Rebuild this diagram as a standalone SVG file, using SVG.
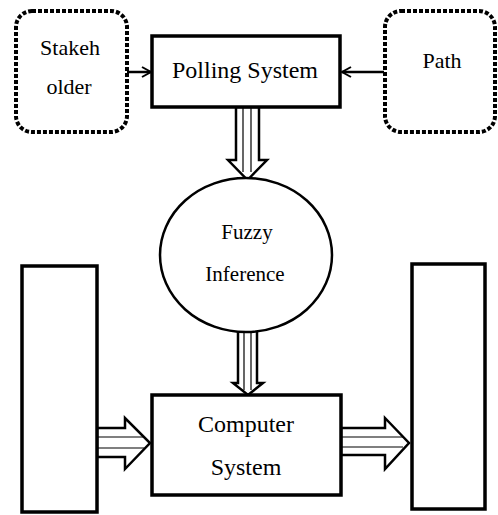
<svg xmlns="http://www.w3.org/2000/svg" width="498" height="515" viewBox="0 0 498 515">
<style>
.box{fill:#fff;stroke:#000;stroke-width:3.5}
.dot{fill:#fff;stroke:#000;stroke-width:4;stroke-dasharray:4 2}
.t{font-family:"Liberation Serif","Times New Roman",serif;fill:#000;text-anchor:middle}
.ba{fill:#fff;stroke:#000;stroke-width:2.5;stroke-linejoin:miter}
.in{stroke:#000;stroke-width:1.2;fill:none}
.ln{stroke:#000;stroke-width:2.5;fill:none}
</style>
<defs>
<marker id="open" markerWidth="12" markerHeight="12" refX="10" refY="6" orient="auto" markerUnits="userSpaceOnUse">
<path d="M1,1 L10,6 L1,11" fill="none" stroke="#000" stroke-width="2"/>
</marker>
</defs>
<g id="connectors">
<line class="ln" x1="127" y1="72" x2="151" y2="72" marker-end="url(#open)"/>
<line class="ln" x1="384" y1="72" x2="342" y2="72" marker-end="url(#open)"/>
<g id="arrow-poll-fuzzy">
<polygon class="ba" points="236,107 259,107 259,160 267,160 247.5,180 228,160 236,160"/>
<line class="in" x1="243" y1="107" x2="243" y2="172"/>
<line class="in" x1="251" y1="107" x2="251" y2="172"/>
</g>
<g id="arrow-fuzzy-comp">
<polygon class="ba" points="238,330 257,330 257,383 263,383 248,395 233,383 238,383"/>
<line class="in" x1="244" y1="330" x2="244" y2="390"/>
<line class="in" x1="251" y1="330" x2="251" y2="390"/>
</g>
<g id="arrow-left-comp">
<polygon class="ba" points="97,428 125,428 125,418 150,443 125,469 125,457 97,457"/>
<line class="in" x1="97" y1="437" x2="144" y2="437"/>
<line class="in" x1="97" y1="448" x2="144" y2="448"/>
</g>
<g id="arrow-comp-right">
<polygon class="ba" points="341,428 385,428 385,418 409,443 385,469 385,455 341,455"/>
<line class="in" x1="341" y1="437" x2="403" y2="437"/>
<line class="in" x1="341" y1="447" x2="403" y2="447"/>
</g>
</g>
<g id="stakeholder">
<rect class="dot" x="16" y="11" width="111" height="121" rx="16"/>
<text class="t" x="70" y="55" font-size="22">Stakeh</text>
<text class="t" x="69" y="94" font-size="22">older</text>
</g>
<g id="polling">
<rect class="box" x="152" y="36" width="188" height="71"/>
<text class="t" x="245" y="78" font-size="24">Polling System</text>
</g>
<g id="path">
<rect class="dot" x="385" y="11" width="110" height="121" rx="16"/>
<text class="t" x="442" y="68" font-size="22">Path</text>
</g>
<g id="fuzzy">
<ellipse cx="246" cy="255" rx="86" ry="77" fill="#fff" stroke="#000" stroke-width="2.5"/>
<text class="t" x="247" y="239" font-size="21">Fuzzy</text>
<text class="t" x="245" y="281" font-size="21">Inference</text>
</g>
<g id="left-block">
<rect class="box" x="22" y="266" width="75" height="246"/>
</g>
<g id="computer">
<rect class="box" x="152" y="395" width="189" height="100"/>
<text class="t" x="246" y="432" font-size="24">Computer</text>
<text class="t" x="246" y="475" font-size="24">System</text>
</g>
<g id="right-block">
<rect class="box" x="412" y="264" width="73" height="245"/>
</g>
</svg>
